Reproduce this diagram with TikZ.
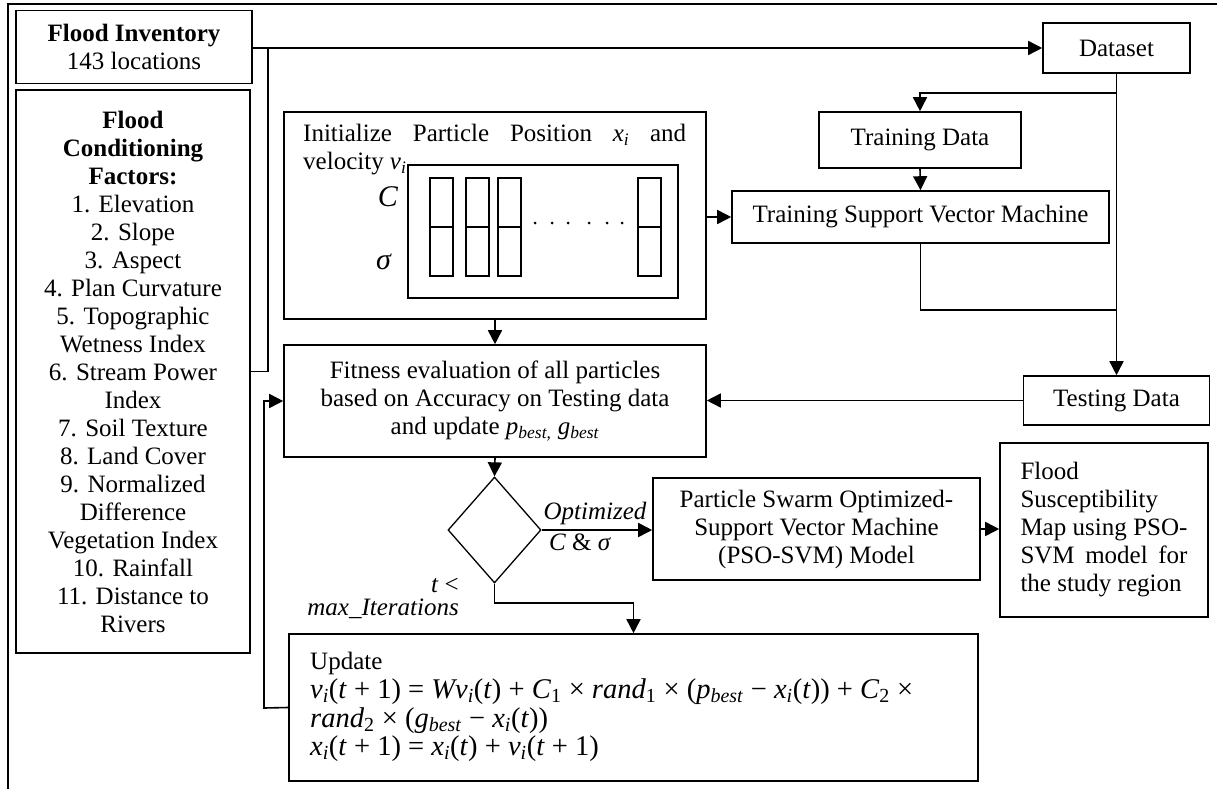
\documentclass[tikz,border=0pt]{standalone}
\usepackage{graphicx}
\usepackage{fontspec}
\setmainfont{Liberation Serif}
\usetikzlibrary{arrows.meta,shapes.geometric}
\newlength\eqw
\newcommand{\mi}[1]{\textit{#1}}
\newcommand{\sbi}[1]{\textsubscript{\textit{#1}}}
\newcommand{\eqone}{\mi{v}\sbi{i}(\mi{t} + 1) = \mi{Wv}\sbi{i}(\mi{t}) + \mi{C}\textsubscript{1} × \mi{rand}\textsubscript{1} × (\mi{p}\sbi{best} − \mi{x}\sbi{i}(\mi{t})) + \mi{C}\textsubscript{2} ×}
\begin{document}
\begin{tikzpicture}[x=1pt,y=-1pt,
  every node/.style={font=\fontsize{25}{28}\selectfont},
  box/.style={draw, line width=1.6pt, inner sep=0pt, align=center},
  ln/.style={line width=1.6pt},
  arr/.style={line width=1.6pt, -{Triangle[length=14pt,width=14pt]}},
  col/.style={draw, line width=1.6pt, minimum width=23pt, minimum height=98pt, inner sep=0pt},
  eqline/.style={anchor=base west, inner sep=0pt},
]
\useasboundingbox (0,0) rectangle (1217,789);
\draw[line width=1.8pt] (8,789) -- (8,4) -- (1217,4);

\node[box, minimum width=236pt, minimum height=73pt] (inv) at (134,47) {\textbf{Flood Inventory}\\143 locations};
\node[box, minimum width=234pt, minimum height=563pt] (fac) at (133,371.5) {\textbf{Flood}\\\textbf{Conditioning}\\\textbf{Factors:}\\1. Elevation\\2. Slope\\3. Aspect\\4. Plan Curvature\\5. Topographic\\Wetness Index\\6. Stream Power\\Index\\7. Soil Texture\\8. Land Cover\\9. Normalized\\Difference\\Vegetation Index\\10. Rainfall\\11. Distance to\\Rivers};

\node[box, minimum width=147pt, minimum height=50pt] (ds) at (1116.5,48) {Dataset};
\node[box, minimum width=202pt, minimum height=56pt] (td) at (920,140) {Training Data};
\node[box, minimum width=377pt, minimum height=52pt] (tsvm) at (920.5,217) {Training Support Vector Machine};
\node[box, minimum width=186pt, minimum height=49pt] (ts) at (1116.5,400.5) {Testing Data};

\node[box, minimum width=422pt, minimum height=207pt] (init) at (495,215.5) {};
\node[anchor=north west, inner sep=0pt, align=left] (initxt) at (303,124) {\makebox[383pt][s]{Initialize Particle Position \textit{x}\textsubscript{\textit{i}} and}\\velocity \textit{v}\textsubscript{\textit{i}}};
\node[box, fill=white, minimum width=270pt, minimum height=133pt] (inner) at (543,231.5) {};
\node[col] (c1) at (441.5,227) {};
\node[col] (c2) at (477.5,227) {};
\node[col] (c3) at (509.5,227) {};
\node[col] (c4) at (649.5,227) {};
\foreach \c in {c1,c2,c3,c4} \draw[ln] (\c.west) -- (\c.east);
\foreach \x in {535,552,568,589,607,622} \fill (\x,223) circle (1.5pt);
\node (lc) at (388,197) {\fontsize{30}{30}\selectfont\textit{C}};
\node (ls) at (384,262) {\fontsize{30}{30}\selectfont\textit{σ}};

\node[box, minimum width=422pt, minimum height=112pt] (fit) at (495,401) {Fitness evaluation of all particles\\based on Accuracy on Testing data\\and update \textit{p}\textsubscript{\textit{best,}} \textit{g}\textsubscript{\textit{best}}};

\node[draw, diamond, line width=1.3pt, minimum width=93pt, minimum height=106pt, inner sep=0pt] (dia) at (494.5,530) {};

\node[box, minimum width=327pt, minimum height=102pt] (pso) at (816.5,529) {Particle Swarm Optimized-\\Support Vector Machine\\(PSO-SVM) Model};
\node[box, minimum width=208pt, minimum height=174pt, align=left] (fin) at (1104,530) {Flood\\Susceptibility\\\makebox[167pt][s]{Map using PSO-}\\\makebox[167pt][s]{SVM model for}\\the study region};

\node[box, minimum width=689pt, minimum height=147pt] (upd) at (633.5,707.5) {};
\node[eqline] (uplabel) at (310,669) {Update};
\node[eqline] (eq1) at (310,698) {\settowidth{\eqw}{\eqone}\pgfmathsetmacro\eqs{603/\eqw}\xdef\eqsg{\eqs}\scalebox{\eqsg}{\eqone}};
\node[eqline] (eq2) at (310,727) {\scalebox{\eqsg}{\mi{rand}\textsubscript{2} × (\mi{g}\sbi{best} − \mi{x}\sbi{i}(\mi{t}))}};
\node[eqline] (eq3) at (310,755) {\scalebox{\eqsg}{\mi{x}\sbi{i}(\mi{t} + 1) = \mi{x}\sbi{i}(\mi{t}) + \mi{v}\sbi{i}(\mi{t} + 1)}};

\node[anchor=south, inner sep=1pt] (lopt) at (595,526) {\textit{Optimized}};
\node[anchor=north, inner sep=1pt] (lcs) at (580,533) {\textit{C} \& \textit{σ}};
\node[anchor=east, inner sep=0pt] (lt) at (459,585) {\textit{t} <};
\node[anchor=east, inner sep=0pt] (lmax) at (459,609) {\textit{max\_Iterations}};

% connectors
\coordinate (j1) at (268,47);
\draw[arr] (ds.west -| inv.east) -- (ds.west);
\draw[ln] (fac.east) -| (j1);
\coordinate (j3) at (1116.5,93);
\draw[arr] (ds.south) -- (j3) -| (td.north);
\draw[arr] (ds.south) -- (ts.north);
\draw[arr] (td.south) -- (tsvm.north);
\coordinate (j2) at (1116.5,310);
\draw[ln] (tsvm.south) |- (j2);
\draw[arr] (init.east |- tsvm.west) -- (tsvm.west);
\draw[arr] (init.south) -- (fit.north);
\draw[arr] (ts.west) -- (ts.west -| fit.east);
\draw[arr] (fit.south) -- (dia.north);
\draw[arr] (dia.east) -- (dia.east -| pso.west);
\draw[arr] (pso.east) -- (pso.east -| fin.west);
\coordinate (j4) at (494.5,603);
\draw[arr] (dia.south) -- (j4) -| (upd.north);
\coordinate (j5) at (264,708);
\draw[arr] (upd.west) -- (j5) |- (fit.west);
\end{tikzpicture}
\end{document}
